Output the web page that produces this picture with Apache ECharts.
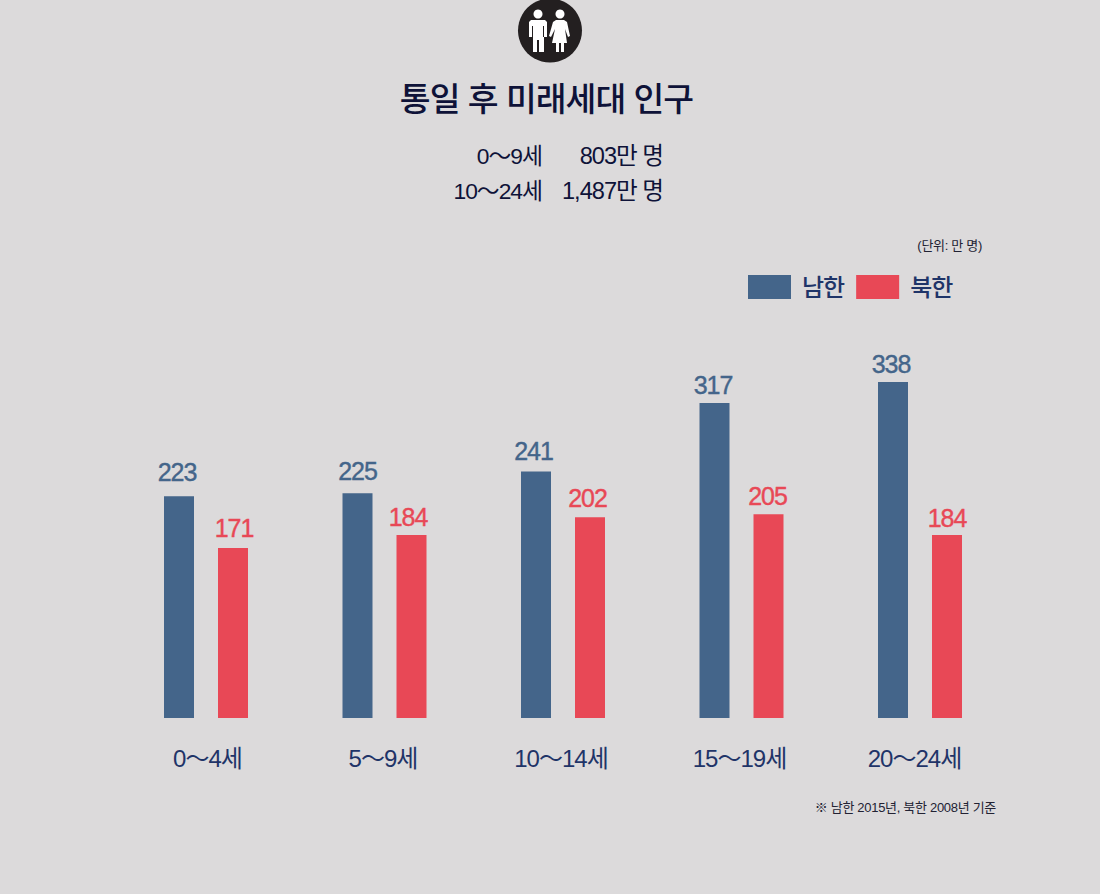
<!DOCTYPE html>
<html>
<head>
<meta charset="utf-8">
<title>통일 후 미래세대 인구</title>
<script src="https://cdn.jsdelivr.net/npm/echarts@6/dist/echarts.min.js"></script>
<style>
    html, body { margin: 0; padding: 0; background: #dcdadb; }
    #main { width: 1100px; height: 894px; }
    /* 글자 간격이 좁은 원본에 맞춤 */
    #main text { letter-spacing: -1px; }
    #main text[style*="13px"] { letter-spacing: -0.3px; }
</style>
</head>
<body>
<div id="main"></div>
<script>
var categories = ["0〜4세", "5〜9세", "10〜14세", "15〜19세", "20〜24세"];
// 막대 높이는 그림에서 읽은 값 (원본의 241 막대는 라벨보다 높게 그려져 있음)
var southHeights = [223, 226, 248, 317, 338];
var northHeights = [171, 184, 202, 205, 184];
// 막대 위에 적힌 숫자
var southLabels = [223, 225, 241, 317, 338];
var northLabels = [171, 184, 202, 205, 184];
var seriesNames = ["남한", "북한"];
var titleText = "통일 후 미래세대 인구";
var summaryAges = ["0〜9세", "10〜24세"];
var summaryCounts = ["803만 명", "1,487만 명"];
var unitText = "(단위: 만 명)";
var noteText = "※ 남한 2015년, 북한 2008년 기준";

var FONT = '"Liberation Sans", "Noto Sans CJK KR", sans-serif';
var NAVY = "#1f3468";
var DARK = "#0e1238";
var BLUE = "#44658a";
var RED = "#e84856";

function label(text, x, y, size, color, align, weight) {
    return {
        type: "text",
        x: x,
        y: y,
        style: {
            text: text,
            fill: color,
            font: (weight || "normal") + " " + size + "px " + FONT,
            textAlign: align,
            textVerticalAlign: "middle"
        }
    };
}

// 상단 사람 아이콘
function peopleIcon() {
    var white = { fill: "#ffffff" };
    var slit = { stroke: "#231f20", lineWidth: 1 };
    return [
        { type: "circle", shape: { cx: 550, cy: 30.5, r: 32 }, style: { fill: "#231f20" } },
        // 남자
        { type: "circle", shape: { cx: 538, cy: 14, r: 4.5 }, style: white },
        { type: "polygon", shape: { points: [[531, 20], [545, 20], [547, 22], [547, 37], [544, 37], [544, 52], [539, 52], [539, 40], [537, 40], [537, 52], [533, 52], [533, 37], [529, 37], [529, 22]] }, style: white },
        { type: "line", shape: { x1: 532.5, y1: 26, x2: 532.5, y2: 37 }, style: slit },
        { type: "line", shape: { x1: 543.5, y1: 26, x2: 543.5, y2: 37 }, style: slit },
        // 여자
        { type: "circle", shape: { cx: 560, cy: 14, r: 4.5 }, style: white },
        { type: "polygon", shape: { points: [[556, 20], [564, 20], [567, 22], [570, 36], [568, 37], [565, 29], [567, 43], [564, 43], [564, 52], [561, 52], [561, 43], [559, 43], [559, 52], [556, 52], [556, 43], [552, 43], [555, 29], [551, 37], [549, 36], [553, 22]] }, style: white }
    ];
}

var graphicItems = peopleIcon().concat([
    label(titleText, 546.5, 99, 33.5, DARK, "center", "500"),
    label(summaryAges[0], 542, 155.5, 22.8, DARK, "right"),
    label(summaryCounts[0], 663, 155.5, 23.6, DARK, "right"),
    label(summaryAges[1], 542, 190.5, 22.8, DARK, "right"),
    label(summaryCounts[1], 663, 190.5, 23.6, DARK, "right"),
    label(unitText, 982, 245, 13, "#222233", "right"),
    label(noteText, 996, 807, 13, "#222233", "right")
]);

function barSeries(name, heights, labels, color, shifts) {
    return {
        name: name,
        type: "bar",
        data: heights.map(function (h, i) {
            return {
                value: h,
                label: { formatter: String(labels[i]), offset: shifts[i] }
            };
        }),
        barWidth: 30,
        barGap: "80%",
        itemStyle: { color: color },
        label: {
            show: true,
            position: "top",
            distance: 9,
            color: color,
            textBorderColor: color,
            textBorderWidth: 0.4,
            fontFamily: FONT,
            fontSize: 25
        }
    };
}

// 원본의 x축 라벨은 칸 중앙에서 조금씩 어긋나 있어 padding으로 맞춤
var catStyle = { color: NAVY, fontSize: 24, fontFamily: FONT };
var catRich = {
    c0: Object.assign({ padding: [0, 0, 0, 3] }, catStyle),
    c1: Object.assign({ padding: [0, 3, 0, 0] }, catStyle),
    c2: Object.assign({ padding: [0, 4, 0, 0] }, catStyle),
    c3: Object.assign({ padding: [0, 4, 0, 0] }, catStyle),
    c4: Object.assign({ padding: [0, 11, 0, 0] }, catStyle)
};

var myChart = echarts.init(document.getElementById("main"), null, { renderer: "svg" });
myChart.setOption({
    animation: false,
    backgroundColor: "#dcdadb",
    textStyle: { fontFamily: FONT },
    legend: {
        data: seriesNames,
        left: 748,
        top: 275,
        padding: 0,
        itemWidth: 43,
        itemHeight: 24,
        itemGap: 10,
        icon: "rect",
        selectedMode: false,
        textStyle: { color: NAVY, fontSize: 24, fontWeight: 500, fontFamily: FONT, padding: [0, 0, 0, 6] }
    },
    grid: { left: 116.75, width: 892.5, top: 320.4, height: 397.6 },
    xAxis: {
        type: "category",
        data: categories,
        axisLine: { show: false },
        axisTick: { show: false },
        axisLabel: {
            margin: 28,
            rich: catRich,
            formatter: function (value, i) {
                return "{c" + i + "|" + value + "}";
            }
        }
    },
    yAxis: { type: "value", min: 0, max: 400, show: false },
    graphic: { elements: graphicItems },
    series: [
        barSeries(seriesNames[0], southHeights, southLabels, BLUE, [[-2, -3], [0, -1], [-2.5, 1], [-1.5, 4], [-2, 3]]),
        barSeries(seriesNames[1], northHeights, northLabels, RED, [[1, 1], [-3.5, 3], [-2.5, 2], [-1, 3], [0, 4]])
    ]
});
</script>
</body>
</html>
